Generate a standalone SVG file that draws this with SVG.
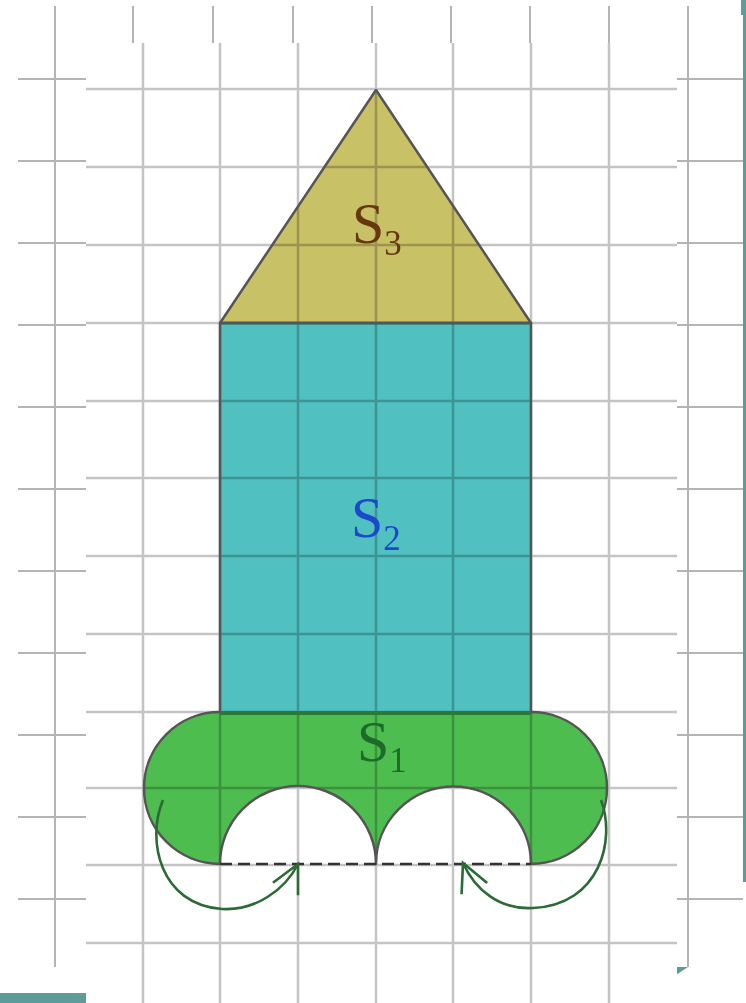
<svg xmlns="http://www.w3.org/2000/svg" width="746" height="1003" viewBox="0 0 746 1003">
<style>
.og{stroke:#b4b4b4;stroke-width:2;fill:none}
.ig{stroke:#c4c4c4;stroke-width:2.5;fill:none}
.fillshape{mix-blend-mode:multiply}
.edge{stroke:#555;stroke-width:2.5;fill:none;stroke-linejoin:round}
.lbl{font-family:"Liberation Serif","Times New Roman",serif;font-size:58px}
.sub{font-size:35px}
.arr{stroke:#2c6a36;stroke-width:2.6;fill:none;marker-end:url(#chev)}
.teal{fill:#5f9c98}
</style>
<defs>
<marker id="chev" viewBox="-2 -2 34 34" refX="28" refY="14" markerWidth="34" markerHeight="34" markerUnits="userSpaceOnUse" orient="auto" overflow="visible">
<path d="M 0 0 L 28 14 L 0 28" fill="none" stroke="#2c6a36" stroke-width="2.6"/>
</marker>
</defs>
<rect x="0" y="0" width="746" height="1003" fill="#fff"/>
<g id="outer-grid">
<path class="og" d="M55 6V967M688 6V967M133 6V43M213 6V43M293 6V43M372 6V43M451 6V43M530 6V43M609 6V43"/>
<path class="og" d="M18 79H86M18 161H86M18 243H86M18 325H86M18 407H86M18 489H86M18 571H86M18 653H86M18 735H86M18 817H86M18 899H86"/>
<path class="og" d="M677 79H743M677 161H743M677 243H743M677 325H743M677 407H743M677 489H743M677 571H743M677 653H743M677 735H743M677 817H743M677 899H743"/>
</g>
<g id="frame">
<rect class="teal" x="741" y="0" width="5" height="15"/>
<rect class="teal" x="743" y="0" width="3" height="882"/>
<rect class="teal" x="0" y="993" width="86" height="10"/>
<polygon class="teal" points="676,967 688,967 676,975"/>
</g>
<rect x="86" y="43" width="591" height="960" fill="#fff"/>
<g id="grid">
<path class="ig" d="M143 43V1003M220 43V1003M298 43V1003M376 43V1003M453 43V1003M531 43V1003M609 43V1003"/>
<path class="ig" d="M86 89H677M86 167H677M86 245H677M86 323H677M86 401H677M86 478H677M86 556H677M86 634H677M86 712H677M86 788H677M86 865H677M86 943H677"/>
</g>
<g id="S3">
<polygon class="fillshape" points="376,90 531,323 220,323" fill="#c9c166"/>
<polygon class="edge" points="376,90 531,323 220,323"/>
<text class="lbl" x="352" y="243" fill="#653810">S<tspan class="sub" dy="12">3</tspan></text>
</g>
<g id="S2">
<rect class="fillshape" x="220" y="323" width="311" height="389" fill="#50c0c0"/>
<path class="edge" d="M220 712V323H531V712"/>
<text class="lbl" x="351" y="537" fill="#1c48cc">S<tspan class="sub" dy="13">2</tspan></text>
</g>
<g id="S1">
<path class="fillshape" d="M220 712H531A76 76 0 0 1 531 864A77.5 77.5 0 0 0 376 864A78 78 0 0 0 220 864A76 76 0 0 1 220 712Z" fill="#4dbd4f"/>
<path class="edge" d="M531 712A76 76 0 0 1 531 864A77.5 77.5 0 0 0 376 864A78 78 0 0 0 220 864A76 76 0 0 1 220 712"/>
<path d="M220 713H531" stroke="#2a7a35" stroke-width="4"/>
<path d="M220 864H531" stroke="#333" stroke-width="2.5" stroke-dasharray="12 6"/>
<text class="lbl" x="357" y="761" fill="#1d6b2a">S<tspan class="sub" dy="11">1</tspan></text>
</g>
<g id="connectors">
<path class="arr" d="M163 800C146 840 160 905 222 909C255 911 285 890 298 864"/>
<path class="arr" d="M601 800C616 840 600 905 533 908C500 910 475 890 463 863"/>
</g>
</svg>
